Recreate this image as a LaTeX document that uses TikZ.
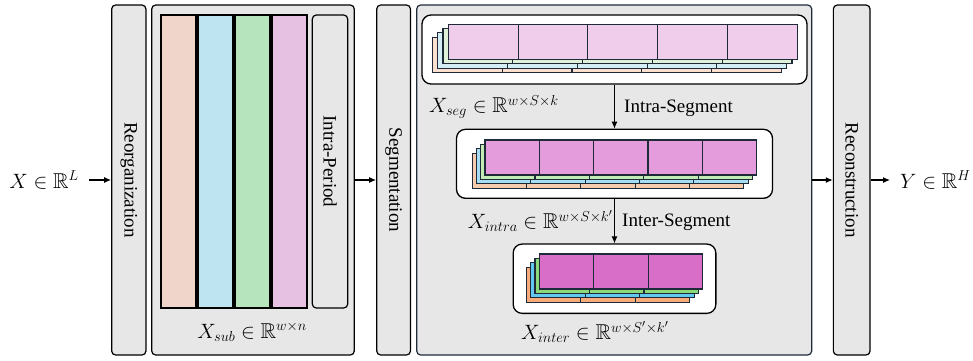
\documentclass[tikz,border=0pt]{standalone}
\usepackage{fontspec}
\setmainfont{Liberation Serif}
\usepackage{amssymb}
\usetikzlibrary{arrows.meta}
\definecolor{boxgray}{HTML}{E7E7E7}
\definecolor{celledge}{HTML}{1E2A38}
\definecolor{barA}{HTML}{F0D6CA}
\definecolor{barB}{HTML}{BEE3F1}
\definecolor{barC}{HTML}{B6E4BD}
\definecolor{barD}{HTML}{E7C1E1}
\definecolor{tPk}{HTML}{F1CDEC}
\definecolor{tGr}{HTML}{DFF2D8}
\definecolor{tBl}{HTML}{D5EEF6}
\definecolor{tOr}{HTML}{FBE0D0}
\definecolor{mPk}{HTML}{E49CDD}
\definecolor{mGr}{HTML}{C2EBB5}
\definecolor{mBl}{HTML}{A6DDF2}
\definecolor{mOr}{HTML}{F7CBAE}
\definecolor{bPk}{HTML}{D86EC8}
\definecolor{bGr}{HTML}{8BD97A}
\definecolor{bBl}{HTML}{62C8F0}
\definecolor{bOr}{HTML}{F7AA7A}
\newcommand{\drawstack}[8]{%
  \foreach \k/\c in {#8}{%
    \foreach \i in {1,...,#5}{%
      \draw[cell, fill=\c] ({#1-\k*#6+(\i-1)*#3},{#2+\k*#7}) rectangle ++(#3,#4);
    }}}
\begin{document}
\begin{tikzpicture}[x=1pt,y=-1pt,
  graybox/.style={draw=black, line width=1.2pt, fill=boxgray, rounded corners=4pt, inner sep=0pt},
  whitebox/.style={draw=black, line width=1.3pt, fill=white, rounded corners=9pt, inner sep=0pt},
  bar/.style={draw=black, line width=1.2pt},
  cell/.style={draw=celledge, line width=1.1pt},
  lbl/.style={font=\fontsize{19}{22}\selectfont, inner sep=1pt},
  mlbl/.style={font=\fontsize{21.5}{25}\selectfont, inner sep=1pt},
  vlbl/.style={font=\fontsize{19}{22}\selectfont, inner sep=0pt, rotate=-90},
  arr/.style={-{Latex[length=7pt,width=6pt]}, line width=1.1pt}]
\useasboundingbox (0,0) rectangle (973,360);

% main gray boxes
\node[graybox, minimum width=34.3pt, minimum height=350pt] (reorg) at (128.8,180) {};
\node[vlbl] (reorgt) at (128.8,180) {Reorganization};
\node[graybox, minimum width=202.6pt, minimum height=350pt] (period) at (253,180) {};
\node[graybox, minimum width=33.8pt, minimum height=350pt] (seg) at (393.6,180) {};
\node[vlbl] (segt) at (393.6,180) {Segmentation};
\node[graybox, draw=celledge, minimum width=395pt, minimum height=350pt] (big) at (614.2,180) {};
\node[graybox, minimum width=36.7pt, minimum height=350pt] (recon) at (851.7,180) {};
\node[vlbl] (recont) at (851.7,180) {Reconstruction};

% period bars
\draw[bar, fill=barA] (161,15) rectangle (196,308);
\draw[bar, fill=barB] (198,15) rectangle (233,308);
\draw[bar, fill=barC] (235,15) rectangle (270,308);
\draw[bar, fill=barD] (272,15) rectangle (307,308);
\node[graybox, minimum width=35.4pt, minimum height=293pt] (intrap) at (330,161.5) {};
\node[vlbl] (intrapt) at (330,161.5) {Intra-Period};
\node[mlbl] (xsub) at (252,332) {$X_{sub}\in\mathbb{R}^{w\times n}$};

% white boxes
\node[whitebox, minimum width=385pt, minimum height=69pt] (topw) at (614.5,49.5) {};
\node[whitebox, minimum width=316pt, minimum height=69pt] (midw) at (614.5,163.8) {};
\node[whitebox, minimum width=202.7pt, minimum height=69.3pt] (botw) at (614.5,278.7) {};

% stacks
\drawstack{448.3}{24.5}{69.8}{35.2}{5}{5.3}{4.2}{3/tOr,2/tBl,1/tGr,0/tPk}
\drawstack{485}{140}{54.34}{35}{5}{4.3}{4.4}{3/mOr,2/mBl,1/mGr,0/mPk}
\drawstack{539.3}{254}{54.47}{35}{3}{4.3}{4.4}{3/bOr,2/bBl,1/bGr,0/bPk}

% labels in segment box
\node[mlbl, anchor=west] (xseg) at (428,107) {$X_{seg}\in\mathbb{R}^{w\times S\times k}$};
\node[lbl, anchor=west] (lintra) at (623,108) {Intra-Segment};
\node[mlbl, anchor=east] (xintra) at (614,221) {$X_{intra}\in\mathbb{R}^{w\times S\times k'}$};
\node[lbl, anchor=west] (linter) at (621,222) {Inter-Segment};
\node[mlbl] (xinter) at (595,332) {$X_{inter}\in\mathbb{R}^{w\times S'\times k'}$};

% input / output
\node[mlbl, anchor=east] (xin) at (80,180) {$X\in\mathbb{R}^L$};
\node[mlbl, anchor=west] (yout) at (899,180) {$Y\in\mathbb{R}^H$};

% arrows
\draw[arr, shorten <=9pt] (xin.east) -- (reorg.west);
\draw[arr] (period.east) -- (seg.west);
\draw[arr] (big.east) -- (recon.west);
\draw[arr, shorten >=9pt] (recon.east) -- (yout.west);
\draw[arr] (topw.south) -- (midw.north);
\draw[arr] (midw.south) -- (botw.north);
\end{tikzpicture}
\end{document}
